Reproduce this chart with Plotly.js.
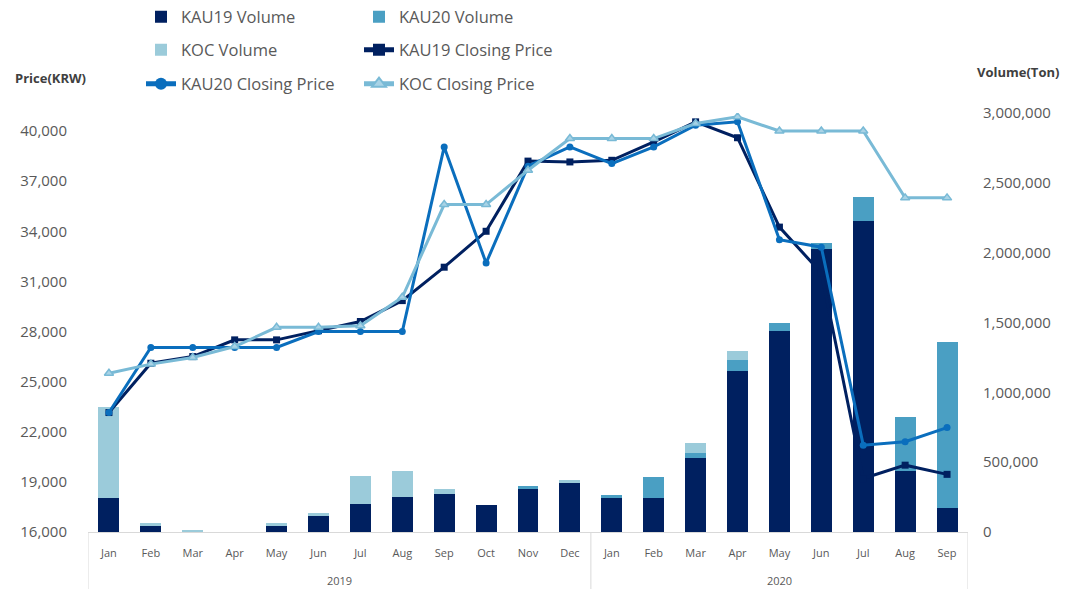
<!DOCTYPE html>
<html>
<head>
<meta charset="utf-8">
<script src="https://cdn.plot.ly/plotly-3.0.1.min.js"></script>
<style>
  html, body { margin: 0; padding: 0; background: #fff; }
  #chart { width: 1078px; height: 589px; }
</style>
</head>
<body>
<div id="chart"></div>
<script>
var months = ["Jan","Feb","Mar","Apr","May","Jun","Jul","Aug","Sep","Oct","Nov","Dec",
              "Jan","Feb","Mar","Apr","May","Jun","Jul","Aug","Sep"];
var years = ["2019","2019","2019","2019","2019","2019","2019","2019","2019","2019","2019","2019",
             "2020","2020","2020","2020","2020","2020","2020","2020","2020"];

// volumes (ton), right axis
var kau19Vol = [241000, 43000, 0, 0, 43000, 114600, 200500, 248000, 270000, 191000, 305700, 353000,
                241000, 241000, 527600, 1155000, 1441000, 2024000, 2229000, 439000, 170000];
var kau20Vol = [0, 0, 0, 0, 0, 0, 0, 0, 0, 0, 26000, 0,
                24000, 150000, 40000, 76000, 53000, 43000, 167000, 387000, 1193000];
var kocVol = [656000, 24000, 8000, 0, 24000, 19000, 200000, 191000, 36000, 0, 0, 19000,
              0, 0, 72000, 67000, 0, 0, 0, 0, 0];

// closing prices (KRW), left axis
var kau19Price = [23150, 26100, 26500, 27500, 27500, 28050, 28600, 29850, 31850, 34000, 38200, 38150,
                  38250, 39350, 40550, 39600, 34250, 31500, 19200, 20000, 19450];
var kau20Price = [23150, 27050, 27050, 27050, 27050, 28000, 28000, 28000, 39050, 32100, 37900, 39050,
                  38050, 39050, 40350, 40550, 33500, 33050, 21200, 21400, 22250];
var kocPrice = [25500, 26050, 26450, 27100, 28250, 28250, 28350, 30050, 35600, 35600, 37650, 39550,
                39550, 39550, 40450, 40850, 40000, 40000, 40000, 36000, 36000];

// category index along the x axis, month labels put back as tick text
var x = months.map(function (m, i) { return i; });

var cDark = "#002060", cMid = "#4A9FC3", cLight = "#9BCBDA";
var cLine20 = "#0A6EBD", cLineKoc = "#79BAD6";

var data = [
  {x: x, y: kau19Vol, type: "bar", name: "KAU19 Volume", marker: {color: cDark}, legend: "legend", yaxis: "y"},
  {x: x, y: kau20Vol, type: "bar", name: "KAU20 Volume", marker: {color: cMid}, legend: "legend", yaxis: "y"},
  {x: x, y: kocVol, type: "bar", name: "KOC Volume", marker: {color: cLight}, legend: "legend2", yaxis: "y"},
  {x: x, y: kau19Price, type: "scatter", mode: "lines+markers", name: "KAU19 Closing Price", yaxis: "y2",
   legend: "legend2", line: {color: cDark, width: 3}, marker: {symbol: "square", size: 7, color: cDark}},
  {x: x, y: kau20Price, type: "scatter", mode: "lines+markers", name: "KAU20 Closing Price", yaxis: "y2",
   legend: "legend3", line: {color: cLine20, width: 3}, marker: {symbol: "circle", size: 7, color: cLine20}},
  {x: x, y: kocPrice, type: "scatter", mode: "lines+markers", name: "KOC Closing Price", yaxis: "y2",
   legend: "legend3", line: {color: cLineKoc, width: 3},
   marker: {symbol: "triangle-up", size: 8, color: "#A9D3E6", line: {color: cLineKoc, width: 1.5}}}
];

// year group labels and the group dividers under the axis
var yearNames = [], yearMid = [], dividers = [-0.5];
years.forEach(function (yr, i) {
  if (yearNames.indexOf(yr) < 0) { yearNames.push(yr); yearMid.push([i, i]); }
  else yearMid[yearNames.indexOf(yr)][1] = i;
  if (i === years.length - 1 || years[i + 1] !== yr) dividers.push(i + 0.5);
});

var plotH = 589 - 113 - 57;
var annotations = yearNames.map(function (yr, k) {
  return {text: yr, xref: "x", yref: "paper", x: (yearMid[k][0] + yearMid[k][1]) / 2,
          y: -(580 - 532) / plotH, xanchor: "center", yanchor: "middle", showarrow: false,
          font: {size: 11, color: "#595959"}};
});
annotations.push(
  {text: "<b>Price(KRW)</b>", xref: "paper", yref: "paper",
   x: (13 - 88) / 880, y: (589 - 78 - 57) / plotH,
   xanchor: "left", yanchor: "middle", showarrow: false,
   font: {size: 13, color: "#404040"}},
  {text: "<b>Volume(Ton)</b>", xref: "paper", yref: "paper",
   x: (975 - 88) / 880, y: (589 - 72 - 57) / plotH,
   xanchor: "left", yanchor: "middle", showarrow: false,
   font: {size: 13, color: "#404040"}}
);

var shapes = dividers.map(function (d) {
  return {type: "line", xref: "x", yref: "paper", x0: d, x1: d, y0: 0, y1: -57 / plotH,
          line: {color: "#D9D9D9", width: 1}};
});

var legendBase = {
  orientation: "h", xref: "container", yref: "container", xanchor: "left", yanchor: "middle",
  x: 141 / 1078, entrywidth: 173, entrywidthmode: "pixels",
  font: {family: "Open Sans, sans-serif", size: 16.5, color: "#595959"},
  bgcolor: "rgba(0,0,0,0)", itemsizing: "constant", traceorder: "normal"
};

var layout = {
  width: 1078, height: 589,
  margin: {l: 88, r: 110, t: 113, b: 57},
  paper_bgcolor: "#fff", plot_bgcolor: "#fff",
  barmode: "stack", bargap: 0.5,
  font: {family: "Open Sans, sans-serif", color: "#595959"},
  showlegend: true,
  legend: Object.assign({}, legendBase, {y: 1 - 17 / 589}),
  legend2: Object.assign({}, legendBase, {y: 1 - 50 / 589}),
  legend3: Object.assign({}, legendBase, {y: 1 - 84 / 589}),
  xaxis: {
    range: [-0.5, 20.5], tickvals: x, ticktext: months,
    showline: true, linecolor: "#D9D9D9", linewidth: 1, zeroline: false,
    ticks: "", ticklabelstandoff: 11, tickfont: {size: 11, color: "#595959"}, showgrid: false
  },
  yaxis: {
    side: "right", range: [0, 3000000], dtick: 500000, tickformat: ",d",
    showgrid: false, zeroline: false, showline: false, ticks: "",
    ticklabelstandoff: 14, tickfont: {size: 15, color: "#595959"}
  },
  yaxis2: {
    side: "left", overlaying: "y", range: [16000, 41080], tick0: 16000, dtick: 3000, tickformat: ",d",
    showgrid: false, zeroline: false, showline: false, ticks: "",
    ticklabelstandoff: 20, tickfont: {size: 15, color: "#595959"}
  },
  annotations: annotations,
  shapes: shapes
};

Plotly.newPlot("chart", data, layout, {displayModeBar: false});
</script>
</body>
</html>
